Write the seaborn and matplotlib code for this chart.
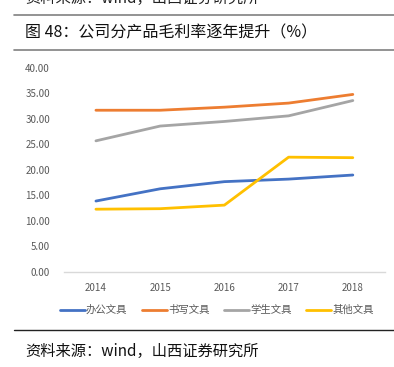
import seaborn as sns
import pandas as pd
import matplotlib.pyplot as plt

years = ["2014", "2015", "2016", "2017", "2018"]
office = [13.9, 16.3, 17.7, 18.2, 19.0]
writing = [31.7, 31.7, 32.3, 33.1, 34.8]
student = [25.7, 28.6, 29.5, 30.6, 33.6]
other = [12.3, 12.4, 13.1, 22.5, 22.4]
names = ["办公文具", "书写文具", "学生文具", "其他文具"]
colors = ["#4472C4", "#ED7D31", "#A5A5A5", "#FFC000"]

rows = []
for name, vals in zip(names, [office, writing, student, other]):
    for i, v in enumerate(vals):
        rows.append({"年份": i, "毛利率": v, "产品": name})
df = pd.DataFrame(rows)

sns.set_style("white")
plt.rcParams["font.family"] = ["Noto Sans CJK SC", "DejaVu Sans"]

fig = plt.figure(figsize=(3.94, 3.67), dpi=100)
ax = fig.add_axes([0.162, 0.259, 0.815, 0.556])

sns.lineplot(data=df, x="年份", y="毛利率", hue="产品", palette=colors,
             linewidth=2.0, ax=ax, legend=False)

ax.set_xlim(-0.5, 4.5)
ax.set_ylim(0, 40)
ax.set_yticks(range(0, 41, 5))
ax.set_yticklabels([f"{v:.2f}" for v in range(0, 41, 5)], fontsize=7, color="#595959")
ax.set_xticks(range(5))
ax.set_xticklabels(years, fontsize=7, color="#595959")
ax.tick_params(length=0, pad=10)
ax.tick_params(axis="x", pad=8)
ax.set_xlabel("")
ax.set_ylabel("")
for s in ["top", "right", "left"]:
    ax.spines[s].set_visible(False)
ax.spines["bottom"].set_color("#D9D9D9")
ax.spines["bottom"].set_linewidth(1.0)

handles = [plt.Line2D([], [], color=c, linewidth=2.0) for c in colors]
fig.legend(handles, names, loc="center", bbox_to_anchor=(0.55, 0.155), ncol=4,
           frameon=False, fontsize=7.5, handlelength=2.4, handletextpad=0.1,
           columnspacing=1.4, labelcolor="#595959")

# page furniture
fig.text(0.063, 1.003, "资料来源：wind，山西证券研究所", fontsize=11, va="center", color="#222222")
fig.add_artist(plt.Line2D([0.036, 1.0], [1 - 15 / 367] * 2, color="#808080", linewidth=1.2))
fig.text(0.063, 1 - 33 / 367, "图 48：公司分产品毛利率逐年提升（%）", fontsize=11.5, va="center", color="#111111")
fig.add_artist(plt.Line2D([0.036, 1.0], [1 - 50 / 367] * 2, color="#808080", linewidth=1.2))
fig.add_artist(plt.Line2D([0.036, 1.0], [1 - 330 / 367] * 2, color="#222222", linewidth=1.0))
fig.text(0.063, 1 - 351 / 367, "资料来源：wind，山西证券研究所", fontsize=11, va="center", color="#111111")

fig.savefig("out.png", dpi=100)
